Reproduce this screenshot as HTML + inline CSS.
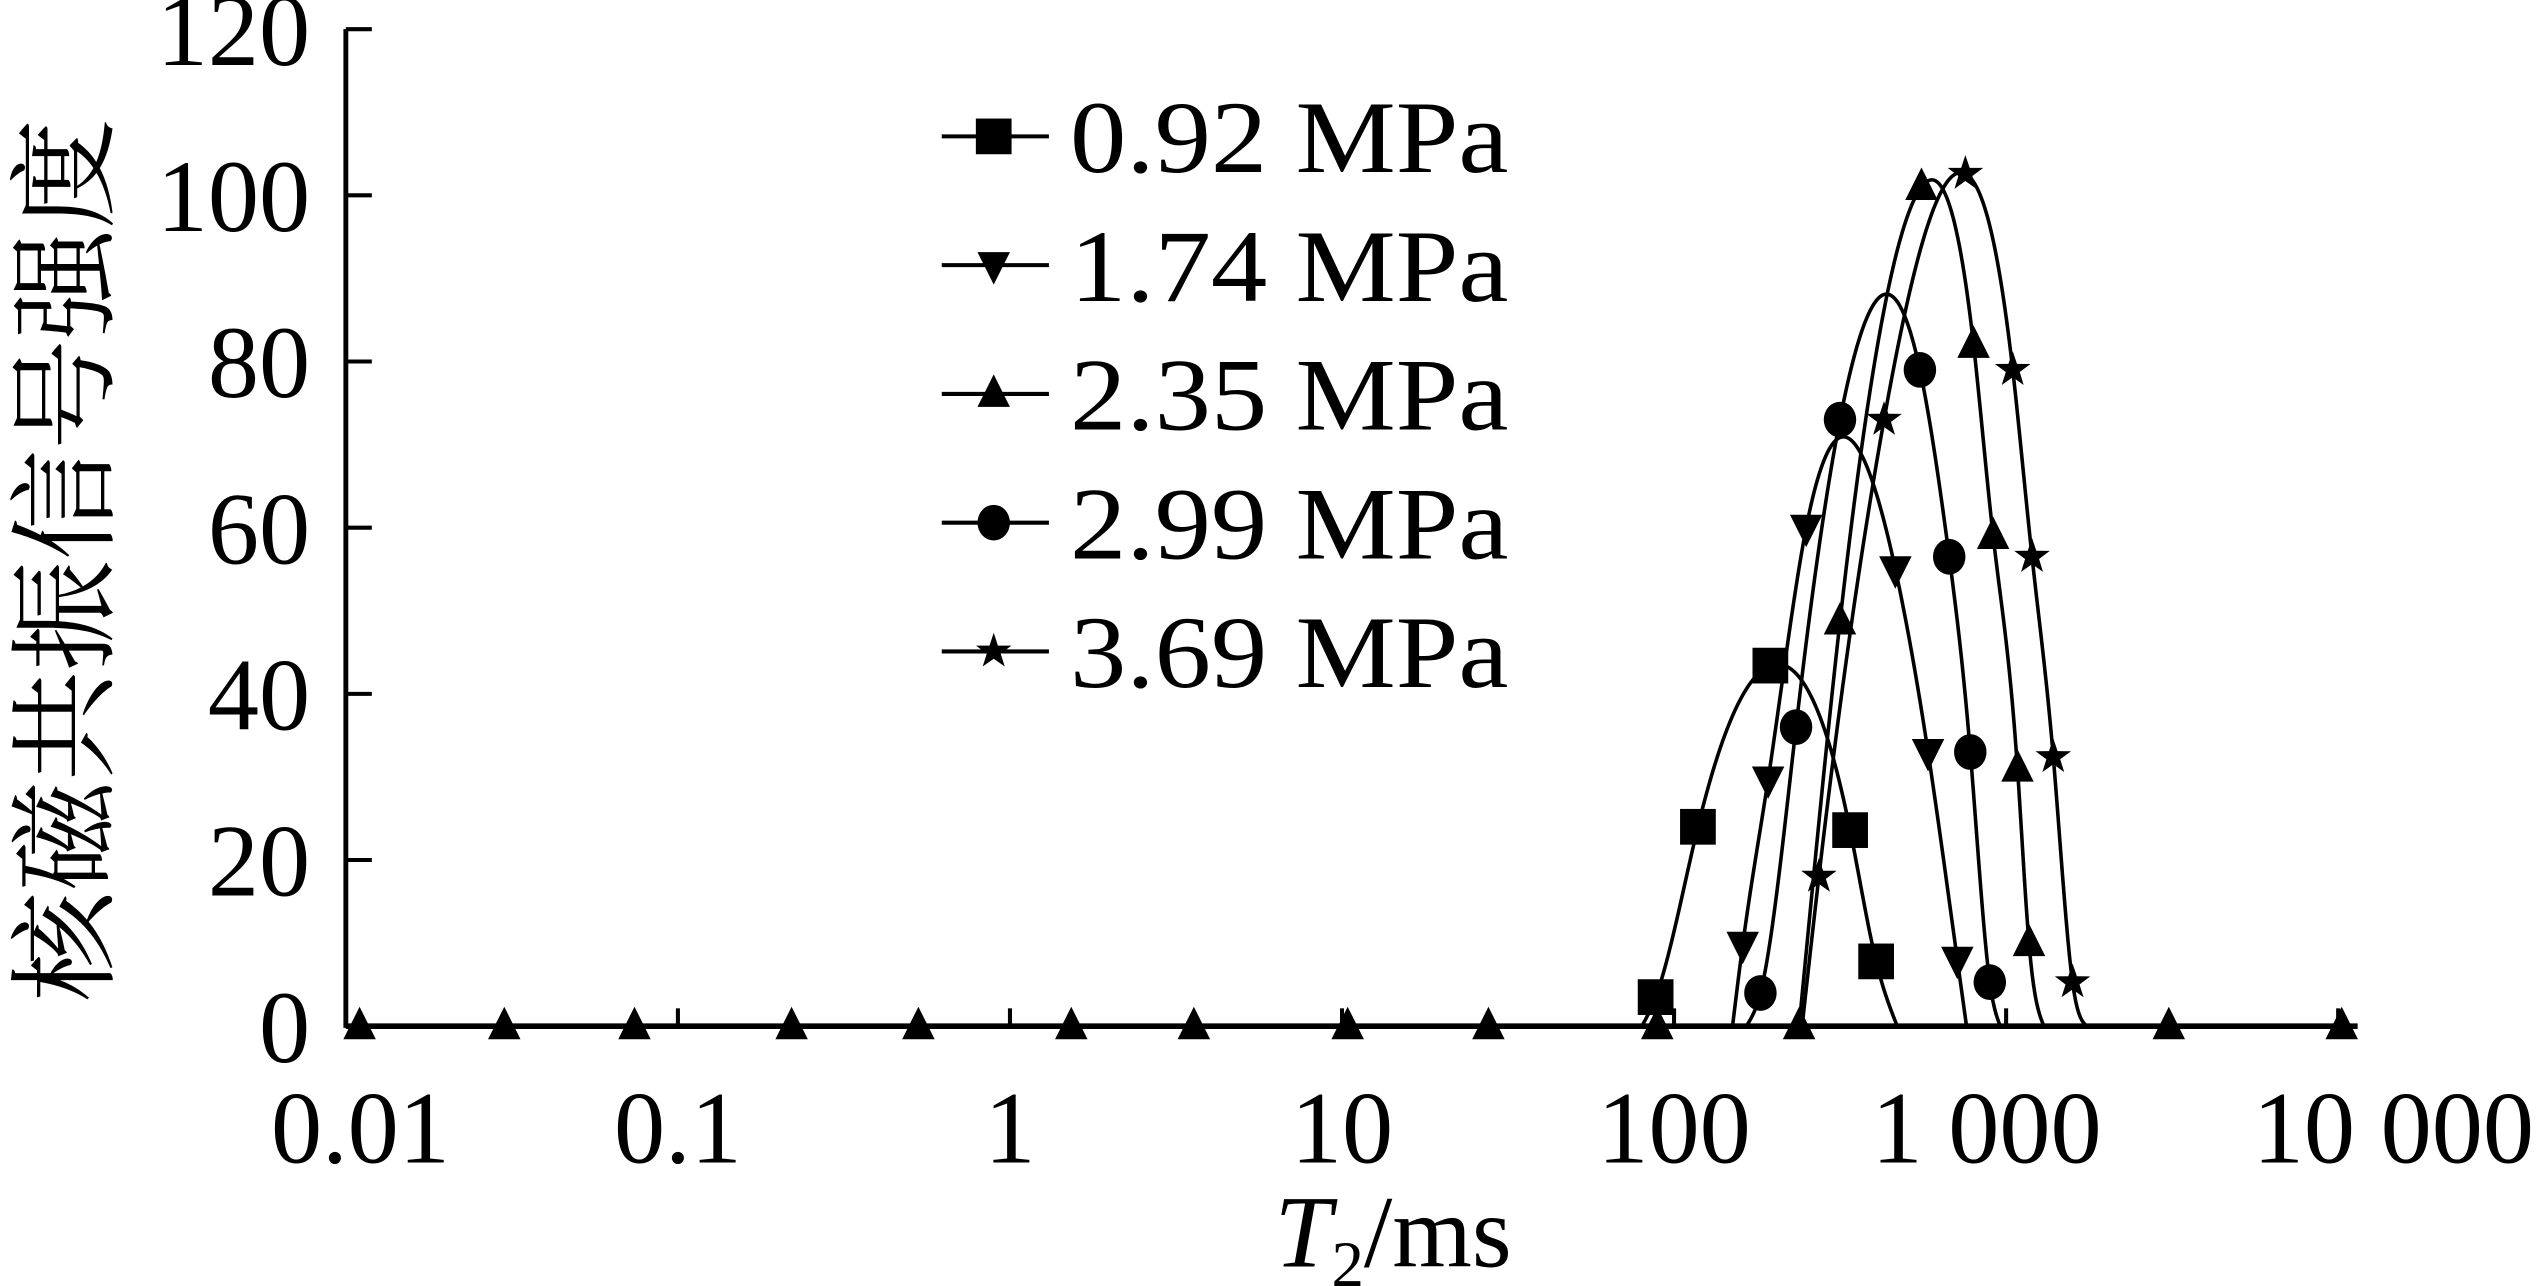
<!DOCTYPE html>
<html><head><meta charset="utf-8"><style>
html,body{margin:0;padding:0;background:#fff}
svg{display:block}
text{font-family:"Liberation Serif","Noto Serif CJK SC",serif;fill:#000}
</style></head><body>
<svg id="chart" width="2546" height="1286" viewBox="0 0 1568 792" preserveAspectRatio="none" xmlns="http://www.w3.org/2000/svg">
<g id="axes"></g>
<g id="series"></g>
<g id="legend"></g>
<text transform="translate(64,345) rotate(-90)" text-anchor="middle" font-size="68" style='font-family:"Liberation Serif","Noto Serif CJK SC",serif'>核磁共振信号强度</text>
<text x="858" y="780" text-anchor="middle" font-size="63"><tspan font-style="italic">T</tspan><tspan font-size="40" dy="12">2</tspan><tspan dy="-12">/ms</tspan></text>
</svg>
<script>
const xTickValues=[0.01,0.1,1,10,100,1000,10000];
const xTickLabels=["0.01","0.1","1","10","100","1 000","10 000"];
const yTickValues=[0,20,40,60,80,100,120];
const seriesNames=["0.92 MPa","1.74 MPa","2.35 MPa","2.99 MPa","3.69 MPa"];
const seriesMarkers=["square","down","up","circle","star"];
const t092=[88,118,195,339,406];
const v092=[3.5,24,43.4,23.6,7.8];
const t174=[161,192,250,464,582,713];
const v174=[9.8,29.7,60,55,33,8];
const t235=[0.011,0.03,0.074,0.22,0.53,1.53,3.58,10.4,27.6,89,238,316,556,798,914,1082,1172,3090,10250];
const v235=[0,0,0,0,0,0,0,0,0,0,0,48.7,101,82,59,31,10,0,0];
const t299=[182,233,316,550,674,780,893];
const v299=[4,36,73,79,56.5,33,5.3];
const t369=[273,429,754,1047,1197,1387,1585];
const v369=[18,73,102.6,79,56.5,32.4,5.3];
const curveStart=[80,150,238,165,243];
const curveEnd=[470,760,1300,960,1750];
const seriesT=[t092,t174,t235,t299,t369];
const seriesV=[v092,v174,v235,v299,v369];

const NS="http://www.w3.org/2000/svg";
const X0=213,DEC=204.5,Y0=632,YS=5.117;
function xs(t){return X0+(Math.log10(t)+2)*DEC;}
function ys(v){return Y0-v*YS;}
function mk(tag,attrs,parent){const e=document.createElementNS(NS,tag);for(const k in attrs)e.setAttribute(k,attrs[k]);parent.appendChild(e);return e;}
const axes=document.getElementById('axes');
let l=mk('line',{x1:X0,y1:ys(120),x2:X0,y2:Y0+1,stroke:'#000','stroke-width':3},axes);


l=mk('line',{x1:X0,y1:Y0,x2:1452,y2:Y0,stroke:'#000','stroke-width':3.5},axes);


yTickValues.forEach(v=>{
  const tk=mk('line',{x1:X0,y1:ys(v),x2:X0+16,y2:ys(v),stroke:'#000','stroke-width':2.5},axes);
  
  
  const tx=mk('text',{x:191,y:ys(v)+22,'text-anchor':'end','font-size':63},axes);
  tx.textContent=v;
  
  
});
xTickValues.forEach((v,i)=>{
  const tk=mk('line',{x1:xs(v),y1:Y0,x2:xs(v),y2:Y0-11,stroke:'#000','stroke-width':2.5},axes);
  
  
  const tx=mk('text',{x:xs(v)+(i===0?9:(i===5?-12:(i===6?34:0))),y:716,'text-anchor':'middle','font-size':63},axes);
  tx.textContent=xTickLabels[i];
  
  
});
function marker(type,x,y,parent){
  let e;const s=11;
  if(type==='square')e=mk('rect',{x:x-s,y:y-s,width:2*s,height:2*s,fill:'#000'},parent);
  else if(type==='circle')e=mk('ellipse',{cx:x,cy:y,rx:10,ry:11,fill:'#000'},parent);
  else if(type==='up')e=mk('polygon',{points:`${x},${y-12} ${x-10},${y+8} ${x+10},${y+8}`,fill:'#000'},parent);
  else if(type==='down')e=mk('polygon',{points:`${x-10},${y-8} ${x+10},${y-8} ${x},${y+12}`,fill:'#000'},parent);
  else{let p=[];for(let k=0;k<10;k++){const r=k%2?4.5:11.5,a=-Math.PI/2+k*Math.PI/5;p.push((x+r*Math.cos(a)).toFixed(1)+','+(y+r*Math.sin(a)).toFixed(1));}e=mk('polygon',{points:p.join(' '),fill:'#000'},parent);}
  return e;
}
function splinePath(px,py){
  const n=px.length;const h=[],al=[],lw=[1],mu=[0],z=[0],c=new Array(n).fill(0),b=[],d=[];
  for(let i=0;i<n-1;i++)h.push(px[i+1]-px[i]);
  for(let i=1;i<n-1;i++)al[i]=3/h[i]*(py[i+1]-py[i])-3/h[i-1]*(py[i]-py[i-1]);
  for(let i=1;i<n-1;i++){lw[i]=2*(px[i+1]-px[i-1])-h[i-1]*mu[i-1];mu[i]=h[i]/lw[i];z[i]=(al[i]-h[i-1]*z[i-1])/lw[i];}
  for(let j=n-2;j>=0;j--){c[j]=(j<n-1&&j>0?z[j]-mu[j]*c[j+1]:0);b[j]=(py[j+1]-py[j])/h[j]-h[j]*(c[j+1]+2*c[j])/3;d[j]=(c[j+1]-c[j])/(3*h[j]);}
  let dstr='';
  for(let j=0;j<n-1;j++){
    const steps=Math.max(2,Math.ceil(h[j]));
    for(let k=0;k<=steps;k++){
      const dx=h[j]*k/steps;let y=py[j]+b[j]*dx+c[j]*dx*dx+d[j]*dx*dx*dx;
      y=Math.max(0,y);
      dstr+=(dstr?' L':'M')+(px[j]+dx).toFixed(2)+','+ys(y).toFixed(2);
    }
  }
  return dstr;
}
const sg=document.getElementById('series');
seriesT.forEach((ts,si)=>{
  const vs=seriesV[si];
  const g=mk('g',{},sg);
  
  
  const px=[xs(curveStart[si])],py=[0];
  ts.forEach((t,i)=>{if(t>curveStart[si]&&t<curveEnd[si]){px.push(xs(t));py.push(vs[i]);}});
  px.push(xs(curveEnd[si]));py.push(0);
  const p=mk('path',{d:splinePath(px,py),fill:'none',stroke:'#000','stroke-width':2.2},g);
  
  
  ts.forEach((t,i)=>{
    const m=marker(seriesMarkers[si],xs(t),ys(vs[i]),g);
    
    
  });
});
const lg=document.getElementById('legend');
seriesNames.forEach((n,i)=>{
  const y=84+i*79.3;
  const g=mk('g',{},lg);
  
  
  mk('line',{x1:580,y1:y,x2:646,y2:y,stroke:'#000','stroke-width':2.5},g);
  marker(seriesMarkers[i],612,y,g);
  const t=mk('text',{x:659,y:y+22,'font-size':63,textLength:270,lengthAdjust:'spacingAndGlyphs'},g);
  t.textContent=n;
});
</script>
</body></html>
